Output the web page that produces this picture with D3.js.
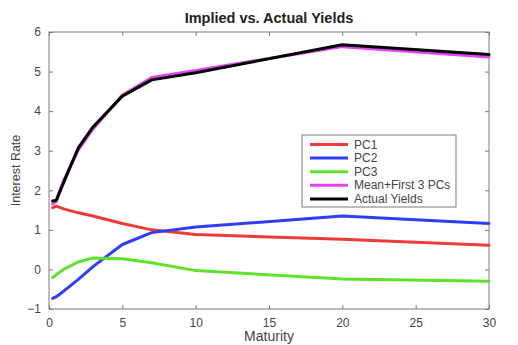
<!DOCTYPE html>
<html><head><meta charset="utf-8">
<script src="https://cdn.jsdelivr.net/npm/d3@7"></script>
<style>body{margin:0;background:#fff}svg{display:block}</style>
</head><body><svg id="c" width="518" height="345"></svg>
<script>
const maturities = [0.25, 0.5, 1, 2, 3, 5, 7, 10, 20, 30];
const pc1 = [1.56, 1.6, 1.53, 1.43, 1.35, 1.16, 1.0, 0.88, 0.76, 0.61];
const pc2 = [-0.73, -0.69, -0.55, -0.25, 0.07, 0.63, 0.93, 1.07, 1.35, 1.16];
const pc3 = [-0.21, -0.13, 0.0, 0.19, 0.29, 0.27, 0.17, -0.03, -0.24, -0.3];
const meanFirst3 = [1.65, 1.72, 2.25, 3.02, 3.55, 4.4, 4.85, 5.03, 5.63, 5.37];
const actual = [1.73, 1.75, 2.2, 3.07, 3.6, 4.38, 4.79, 4.97, 5.68, 5.43];
const xTicks = [0, 5, 10, 15, 20, 25, 30];
const yTicks = [-1, 0, 1, 2, 3, 4, 5, 6];
const seriesNames = ["PC1", "PC2", "PC3", "Mean+First 3 PCs", "Actual Yields"];
const seriesColors = ["#f03a3a", "#2e3dff", "#5ee22a", "#e545f5", "#000000"];
const seriesData = [pc1, pc2, pc3, meanFirst3, actual];

const svg = d3.select("#c");
const L = 49, T = 32, R = 489, B = 309;
const x = d3.scaleLinear().domain([0, 30]).range([L, R]);
const y = d3.scaleLinear().domain([-1, 6]).range([B, T]);
const font = "Liberation Sans, Arial, sans-serif";
const axisCol = "#7a7a7a", textCol = "#444";

// frame
svg.append("rect").attr("x", L).attr("y", T).attr("width", R - L).attr("height", B - T)
  .attr("fill", "none").attr("stroke", axisCol).attr("stroke-width", 1);

function styleAxis(g) {
  g.select(".domain").remove();
  g.selectAll(".tick line").attr("stroke", axisCol);
  g.selectAll(".tick text").attr("fill", textCol).style("font-family", font).style("font-size", "12px");
}
svg.append("g").attr("transform", `translate(0,${B})`)
  .call(d3.axisBottom(x).tickValues(xTicks).tickSize(-4).tickPadding(9).tickFormat(d3.format("d")))
  .call(styleAxis);
svg.append("g").attr("transform", `translate(0,${T})`)
  .call(d3.axisTop(x).tickValues(xTicks).tickSize(-4).tickFormat(""))
  .call(styleAxis);
svg.append("g").attr("transform", `translate(${L},0)`)
  .call(d3.axisLeft(y).tickValues(yTicks).tickSize(-4).tickPadding(8).tickFormat(d3.format("d")))
  .call(styleAxis);
svg.append("g").attr("transform", `translate(${R},0)`)
  .call(d3.axisRight(y).tickValues(yTicks).tickSize(-4).tickFormat(""))
  .call(styleAxis);

// lines
const line = d3.line().x((d, i) => x(maturities[i])).y(d => y(d));
seriesData.forEach((s, k) => {
  svg.append("path").datum(s).attr("d", line).attr("fill", "none")
    .attr("stroke", seriesColors[k]).attr("stroke-width", 3)
    .attr("stroke-linejoin", "round").attr("stroke-linecap", "round");
});

// title & labels
svg.append("text").attr("x", (L + R) / 2).attr("y", 23).attr("text-anchor", "middle")
  .style("font-family", font).style("font-size", "14.5px").style("font-weight", "bold").attr("fill", "#222")
  .text("Implied vs. Actual Yields");
svg.append("text").attr("x", (L + R) / 2).attr("y", 341).attr("text-anchor", "middle")
  .style("font-family", font).style("font-size", "14px").attr("fill", textCol).text("Maturity");
svg.append("text").attr("transform", `translate(20,${(T + B) / 2}) rotate(-90)`).attr("text-anchor", "middle")
  .style("font-family", font).style("font-size", "12.5px").attr("fill", textCol).text("Interest Rate");

// legend
const lg = svg.append("g");
lg.append("rect").attr("x", 302).attr("y", 135).attr("width", 154).attr("height", 72)
  .attr("fill", "#fff").attr("stroke", axisCol).attr("stroke-width", 1);
seriesNames.forEach((n, k) => {
  const yy = 144.5 + k * 13.6;
  lg.append("line").attr("x1", 310).attr("x2", 348).attr("y1", yy).attr("y2", yy)
    .attr("stroke", seriesColors[k]).attr("stroke-width", 3);
  lg.append("text").attr("x", 354).attr("y", yy + 4).style("font-family", font).style("font-size", "12px")
    .attr("fill", textCol).text(n);
});
</script></body></html>
